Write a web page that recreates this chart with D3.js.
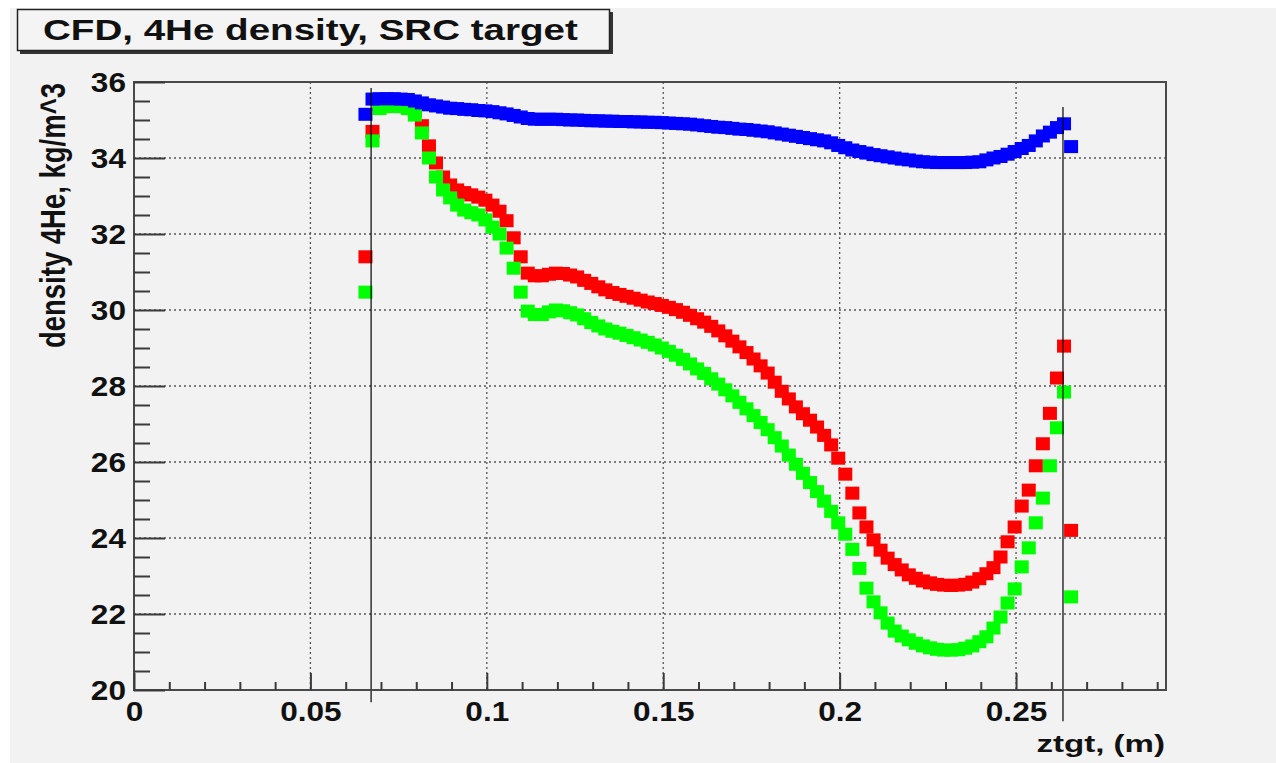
<!DOCTYPE html>
<html>
<head>
<meta charset="utf-8">
<script src="https://cdn.jsdelivr.net/npm/d3@7"></script>
<style>
  html, body { margin: 0; padding: 0; background: #ffffff; }
  svg { display: block; font-family: "Liberation Sans", Arial, sans-serif; font-weight: bold; }
</style>
</head>
<body>
<div id="chart"></div>
<script>
// ztgt positions (m) of the CFD samples
const ztgt = [
  0.0656, 0.0676, 0.0696, 0.0716, 0.0736, 0.0756, 0.0776, 0.0796, 0.0816, 0.0836,
  0.0856, 0.0876, 0.0896, 0.0916, 0.0936, 0.0956, 0.0976, 0.0996, 0.1016, 0.1036,
  0.1056, 0.1076, 0.1096, 0.1116, 0.1136, 0.1156, 0.1176, 0.1196, 0.1216, 0.1236,
  0.1256, 0.1276, 0.1296, 0.1316, 0.1336, 0.1356, 0.1376, 0.1396, 0.1416, 0.1436,
  0.1456, 0.1476, 0.1496, 0.1516, 0.1536, 0.1556, 0.1576, 0.1596, 0.1616, 0.1636,
  0.1656, 0.1676, 0.1696, 0.1716, 0.1736, 0.1756, 0.1776, 0.1796, 0.1816, 0.1836,
  0.1856, 0.1876, 0.1896, 0.1916, 0.1936, 0.1956, 0.1976, 0.1996, 0.2016, 0.2036,
  0.2056, 0.2076, 0.2096, 0.2116, 0.2136, 0.2156, 0.2176, 0.2196, 0.2216, 0.2236,
  0.2256, 0.2276, 0.2296, 0.2316, 0.2336, 0.2356, 0.2376, 0.2396, 0.2416, 0.2436,
  0.2456, 0.2476, 0.2496, 0.2516, 0.2536, 0.2556, 0.2576, 0.2596, 0.2616, 0.2636,
  0.2656
];

// density 4He, kg/m^3
const densBlue = [
  35.15, 35.55, 35.56, 35.56, 35.56, 35.55, 35.54, 35.50, 35.45, 35.40,
  35.37, 35.34, 35.31, 35.30, 35.28, 35.27, 35.25, 35.24, 35.22, 35.19,
  35.16, 35.12, 35.08, 35.04, 35.02, 35.02, 35.02, 35.02, 35.01, 35.00,
  35.00, 34.99, 34.98, 34.98, 34.97, 34.97, 34.96, 34.96, 34.95, 34.95,
  34.94, 34.94, 34.93, 34.92, 34.91, 34.90, 34.89, 34.87, 34.85, 34.83,
  34.81, 34.80, 34.78, 34.76, 34.75, 34.73, 34.71, 34.69, 34.66, 34.63,
  34.60, 34.57, 34.54, 34.51, 34.48, 34.45, 34.40, 34.33, 34.27, 34.21,
  34.17, 34.13, 34.09, 34.06, 34.03, 34.00, 33.97, 33.95, 33.92, 33.90,
  33.89, 33.88, 33.88, 33.88, 33.88, 33.88, 33.89, 33.90, 33.95, 34.00,
  34.04, 34.10, 34.17, 34.25, 34.33, 34.45, 34.58, 34.68, 34.80, 34.90,
  34.30
];

const densRed = [
  31.40, 34.70, 35.40, 35.45, 35.45, 35.42, 35.38, 35.25, 34.85, 34.32,
  33.87, 33.50, 33.29, 33.16, 33.09, 33.03, 32.97, 32.89, 32.76, 32.60,
  32.35, 31.90, 31.40, 30.97, 30.90, 30.90, 30.94, 30.97, 30.96, 30.92,
  30.87, 30.78, 30.70, 30.61, 30.53, 30.46, 30.41, 30.36, 30.31, 30.26,
  30.21, 30.17, 30.12, 30.07, 30.01, 29.94, 29.86, 29.77, 29.68, 29.57,
  29.45, 29.32, 29.18, 29.03, 28.88, 28.71, 28.53, 28.34, 28.10, 27.86,
  27.66, 27.45, 27.27, 27.10, 26.92, 26.70, 26.45, 26.10, 25.68, 25.18,
  24.66, 24.29, 23.95, 23.68, 23.47, 23.30, 23.16, 23.03, 22.94, 22.87,
  22.82, 22.78, 22.76, 22.75, 22.76, 22.78, 22.84, 22.93, 23.06, 23.22,
  23.50, 23.90, 24.29, 24.84, 25.26, 25.90, 26.48, 27.28, 28.21, 29.05,
  24.20
];

const densGreen = [
  30.47, 34.45, 35.30, 35.35, 35.36, 35.35, 35.30, 35.13, 34.66, 34.00,
  33.50, 33.16, 32.95, 32.76, 32.63, 32.56, 32.50, 32.37, 32.18, 32.00,
  31.63, 31.10, 30.47, 29.97, 29.88, 29.88, 29.95, 30.00, 29.98, 29.93,
  29.87, 29.77, 29.67, 29.58, 29.50, 29.44, 29.39, 29.33, 29.27, 29.21,
  29.15, 29.08, 29.00, 28.91, 28.81, 28.70, 28.58, 28.45, 28.33, 28.19,
  28.05, 27.90, 27.74, 27.57, 27.40, 27.22, 27.04, 26.85, 26.64, 26.42,
  26.18, 25.94, 25.70, 25.46, 25.22, 24.97, 24.70, 24.40, 24.10, 23.70,
  23.20, 22.68, 22.32, 22.03, 21.76, 21.55, 21.42, 21.32, 21.23, 21.16,
  21.11, 21.07, 21.05, 21.05, 21.06, 21.10, 21.16, 21.27, 21.40, 21.63,
  21.92, 22.29, 22.66, 23.24, 23.74, 24.40, 25.05, 25.90, 26.90, 27.84,
  22.45
];

const seriesNames = ['red', 'green', 'blue'];
const seriesColors = ['#ff0000', '#00ff00', '#0000ff'];

// axis ticks
const xMajor = [0, 0.05, 0.1, 0.15, 0.2, 0.25];
const xTickLabels = ['0', '0.05', '0.1', '0.15', '0.2', '0.25'];
const xMinor = [0.01, 0.02, 0.03, 0.04, 0.06, 0.07, 0.08, 0.09, 0.11, 0.12, 0.13, 0.14,
  0.16, 0.17, 0.18, 0.19, 0.21, 0.22, 0.23, 0.24, 0.26, 0.27, 0.28, 0.29];
const yMajor = [20, 22, 24, 26, 28, 30, 32, 34, 36];
const yTickLabels = ['20', '22', '24', '26', '28', '30', '32', '34', '36'];
const yMinor = [20.5, 21, 21.5, 22.5, 23, 23.5, 24.5, 25, 25.5, 26.5, 27, 27.5,
  28.5, 29, 29.5, 30.5, 31, 31.5, 32.5, 33, 33.5, 34.5, 35, 35.5];

// thin reference lines drawn over the plot (ztgt, top density, bottom density)
const refLineZ = [0.0672, 0.2633];
const refLineTop = [35.84, 35.34];
const refLineBottom = [19.68, 19.18];

const titleText = 'CFD, 4He density, SRC target';
const xTitle = 'ztgt, (m)';
const yTitle = 'density 4He, kg/m^3';

const width = 1276;
const height = 763;
const frame = { left: 134, right: 1166, top: 82, bottom: 690 };
const stretch = 1.3;      // the picture is wider than the font
const tickStretch = 1.17;

const svg = d3.select('#chart').append('svg')
    .attr('width', width)
    .attr('height', height);

svg.append('rect')
    .attr('x', 10).attr('y', 8)
    .attr('width', width - 10).attr('height', height - 8)
    .attr('fill', '#f2f2f2');

const x = d3.scaleLinear().domain([0, 0.2925]).range([frame.left, frame.right]);
const y = d3.scaleLinear().domain([20, 36]).range([frame.bottom, frame.top]);

// grid
svg.append('g').selectAll('line')
    .data(xMajor.slice(1))
    .join('line')
    .attr('x1', d => x(d)).attr('x2', d => x(d))
    .attr('y1', frame.top).attr('y2', frame.bottom)
    .attr('stroke', '#555').attr('stroke-width', 1.3)
    .attr('stroke-dasharray', '2,3');

svg.append('g').selectAll('line')
    .data(yMajor.slice(1, -1))
    .join('line')
    .attr('x1', frame.left).attr('x2', frame.right)
    .attr('y1', d => y(d)).attr('y2', d => y(d))
    .attr('stroke', '#555').attr('stroke-width', 1.3)
    .attr('stroke-dasharray', '2,3');

// markers
const seriesValues = [densRed, densGreen, densBlue];
const markerW = 14;
const markerH = 13;

seriesValues.forEach((vals, k) => {
    svg.append('g')
        .attr('class', 'series-' + seriesNames[k])
        .selectAll('rect')
        .data(vals.map((v, i) => ({ z: ztgt[i], v })))
        .join('rect')
        .attr('x', d => x(d.z) - markerW / 2)
        .attr('y', d => y(d.v) - markerH / 2)
        .attr('width', markerW)
        .attr('height', markerH)
        .attr('fill', seriesColors[k]);
});

// reference lines
svg.append('g').selectAll('line')
    .data(refLineZ)
    .join('line')
    .attr('x1', d => x(d)).attr('x2', d => x(d))
    .attr('y1', (d, i) => y(refLineTop[i]))
    .attr('y2', (d, i) => y(refLineBottom[i]))
    .attr('stroke', '#000').attr('stroke-width', 1.2);

// frame
svg.append('rect')
    .attr('x', frame.left).attr('y', frame.top)
    .attr('width', frame.right - frame.left)
    .attr('height', frame.bottom - frame.top)
    .attr('fill', 'none')
    .attr('stroke', '#4a4a4a').attr('stroke-width', 2);

// x axis: minor then major ticks pointing into the frame
svg.append('g')
    .attr('transform', `translate(0,${frame.bottom})`)
    .call(d3.axisBottom(x).tickValues(xMinor).tickSize(-8).tickFormat(''))
    .call(g => g.select('.domain').remove());

const xAx = svg.append('g')
    .attr('transform', `translate(0,${frame.bottom})`)
    .call(d3.axisBottom(x).tickValues(xMajor).tickSize(-17).tickFormat((d, i) => xTickLabels[i]))
    .call(g => g.select('.domain').remove());

xAx.selectAll('text')
    .attr('y', null).attr('dy', null)
    .attr('transform', `translate(0,31) scale(${tickStretch},1)`)
    .attr('font-size', 27)
    .attr('font-family', '"Liberation Sans", Arial, sans-serif')
    .attr('fill', '#111');

// y axis
svg.append('g')
    .attr('transform', `translate(${frame.left},0)`)
    .call(d3.axisLeft(y).tickValues(yMinor).tickSize(-16).tickFormat(''))
    .call(g => g.select('.domain').remove());

const yAx = svg.append('g')
    .attr('transform', `translate(${frame.left},0)`)
    .call(d3.axisLeft(y).tickValues(yMajor).tickSize(-31).tickFormat((d, i) => yTickLabels[i]))
    .call(g => g.select('.domain').remove());

yAx.selectAll('text')
    .attr('x', null).attr('dy', '0.36em')
    .attr('transform', `translate(-8,0) scale(${tickStretch},1)`)
    .attr('font-size', 27)
    .attr('font-family', '"Liberation Sans", Arial, sans-serif')
    .attr('fill', '#111');

svg.selectAll('.tick line')
    .attr('stroke', '#3a3a3a')
    .attr('stroke-width', 2);

// axis titles
svg.append('text')
    .attr('transform', `translate(${frame.right - 1},752) scale(${stretch + 0.05},1)`)
    .attr('text-anchor', 'end')
    .attr('font-size', 24.5)
    .attr('fill', '#111')
    .text(xTitle);

svg.append('text')
    .attr('transform', `translate(65,83) scale(${stretch - 0.01},1) rotate(-90)`)
    .attr('text-anchor', 'end')
    .attr('font-size', 27.5)
    .attr('fill', '#111')
    .text(yTitle);

// title box with shadow
svg.append('rect')
    .attr('x', 20).attr('y', 12)
    .attr('width', 593).attr('height', 42)
    .attr('fill', '#333');
svg.append('rect')
    .attr('x', 17.5).attr('y', 9.5)
    .attr('width', 592).attr('height', 41)
    .attr('fill', '#f4f4f4')
    .attr('stroke', '#222').attr('stroke-width', 1.5);

svg.append('text')
    .attr('transform', `translate(43,39.5) scale(${stretch + 0.03},1)`)
    .attr('font-size', 29)
    .attr('fill', '#111')
    .text(titleText);
</script>
</body>
</html>
